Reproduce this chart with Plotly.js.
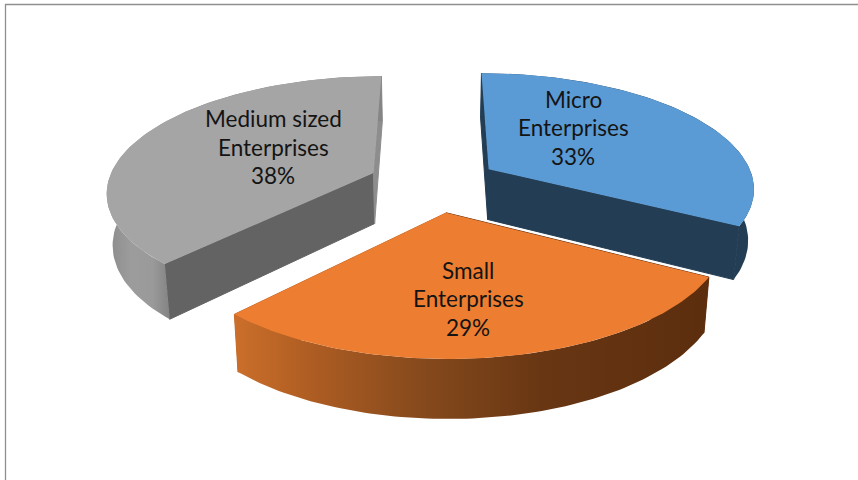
<!DOCTYPE html>
<html>
<head>
<meta charset="utf-8">
<script src="https://cdn.plot.ly/plotly-3.0.1.min.js"></script>
<style>html,body{margin:0;padding:0;background:#fff}#chart{width:858px;height:480px}</style>
</head>
<body>
<div id="chart"></div>
<script>
// Enterprise size shares, clockwise from twelve o'clock
const labelLines = [['Micro', 'Enterprises'], ['Small', 'Enterprises'], ['Medium sized', 'Enterprises']];
const shares = [33, 29, 38];

// Colours of each wedge: top face, cut faces, outer rim gradient
const topColors = ['#5b9bd5', '#ed7d31', '#a5a5a5'];
const startFaceColors = ['#223d54', '#5f300f', '#636363'];
const endFaceColors = ['#223d54', '#c56c29', '#8d8d8d'];
const rimScales = [
  [[0, '#223d54'], [1, '#223d54']],
  [[0, '#cb6f2b'], [0.15, '#b05e23'], [0.4, '#85491c'], [0.65, '#683613'], [1, '#5c2e0e']],
  [[0, '#8a8a8a'], [0.4, '#9c9c9c'], [0.75, '#9a9a9a'], [1, '#858585']]
];

// Projection of the tilted disc onto the page
const view = {cx: 434.5, cy: 183.5, rx: 266, ry: 114.4, persp: 0.15, depth: 51, depthPersp: 0.12, taper: 0.982, explode: 0.25};
const wedgeNudgeX = [-2, 1, 0];
const labelX = [573, 468, 273];
const labelY = [99, 270, 118.5];
const lineGap = 28.5;

function project(X, Z, bottom, nudge) {
  const w = 1 + view.persp * Z;
  const sx = view.rx * X / w * (bottom ? view.taper : 1);
  const sy = -view.ry * Z / w + (bottom ? view.depth / (1 + view.depthPersp * Z) : 0);
  return [view.cx + sx + nudge, view.cy + sy];
}

function wedgeParts(startFrac, frac, nudge) {
  const a0 = startFrac * 2 * Math.PI, a1 = (startFrac + frac) * 2 * Math.PI, mid = (a0 + a1) / 2;
  const ox = view.explode * Math.sin(mid), oz = view.explode * Math.cos(mid);
  const rim = bottom => {
    const pts = [];
    for (let i = 0; i <= 90; i++) {
      const a = a0 + (a1 - a0) * i / 90;
      pts.push(project(ox + Math.sin(a), oz + Math.cos(a), bottom, nudge));
    }
    return pts;
  };
  const apexT = project(ox, oz, false, nudge), apexB = project(ox, oz, true, nudge);
  const rimT = rim(false), rimB = rim(true);
  return {
    top: [apexT, ...rimT],
    rim: [...rimT, ...rimB.slice().reverse()],
    startFace: [apexT, rimT[0], rimB[0], apexB],
    endFace: [apexT, rimT[90], rimB[90], apexB]
  };
}

function poly(pts, extra) {
  return Object.assign({
    type: 'scatter', mode: 'lines', fill: 'toself', showlegend: false, hoverinfo: 'skip',
    x: [...pts.map(p => p[0]), pts[0][0]],
    y: [...pts.map(p => p[1]), pts[0][1]],
    line: {width: 0}
  }, extra);
}

const total = shares.reduce((a, b) => a + b, 0);
let running = 0;
const wedges = shares.map((v, i) => {
  const w = wedgeParts(running / total, v / total, wedgeNudgeX[i]);
  running += v;
  return w;
});

// Back wedges first so the front one overlaps them; within a wedge the cut
// faces go under the rim, and the top face covers whatever lies behind it.
// The cut faces carry a hairline of their own colour to close the seam at the rim.
const traces = [];
[2, 0, 1].forEach(i => {
  const w = wedges[i];
  const rimXs = w.rim.map(p => p[0]);
  traces.push(poly(w.startFace, {fillcolor: startFaceColors[i], line: {width: 1, color: startFaceColors[i]}}));
  traces.push(poly(w.endFace, {fillcolor: endFaceColors[i], line: {width: 1, color: endFaceColors[i]}}));
  traces.push(poly(w.rim, {
    fillgradient: {
      type: 'horizontal', colorscale: rimScales[i],
      start: i === 2 ? 106 : Math.min(...rimXs),
      stop: i === 2 ? 168 : Math.max(...rimXs)
    }
  }));
  traces.push(poly(w.top, {fillcolor: topColors[i]}));
});

const annotations = [];
shares.forEach((v, i) => {
  [...labelLines[i], v + '%'].forEach((txt, j) => {
    annotations.push({
      x: labelX[i], y: labelY[i] + j * lineGap, xref: 'x', yref: 'y',
      text: txt, showarrow: false, xanchor: 'center', yanchor: 'middle',
      font: {family: 'Lato, "Open Sans", sans-serif', size: 22.5, color: '#141414'}
    });
  });
});

const hiddenAxis = {visible: false, fixedrange: true};
const layout = {
  width: 858, height: 480,
  margin: {l: 0, r: 0, t: 0, b: 0},
  paper_bgcolor: '#fff', plot_bgcolor: '#fff',
  xaxis: Object.assign({range: [0, 858]}, hiddenAxis),
  yaxis: Object.assign({range: [480, 0]}, hiddenAxis),
  annotations,
  // Thin frame visible along the top and left edges
  shapes: [
    {type: 'line', xref: 'x', yref: 'y', x0: 5, y0: 4.5, x1: 858, y1: 4.5, line: {color: '#8f8f8f', width: 1.3}},
    {type: 'line', xref: 'x', yref: 'y', x0: 5.5, y0: 4, x1: 5.5, y1: 480, line: {color: '#8f8f8f', width: 1.3}}
  ]
};

Plotly.newPlot('chart', traces, layout, {displayModeBar: false, staticPlot: true});
</script>
</body>
</html>
